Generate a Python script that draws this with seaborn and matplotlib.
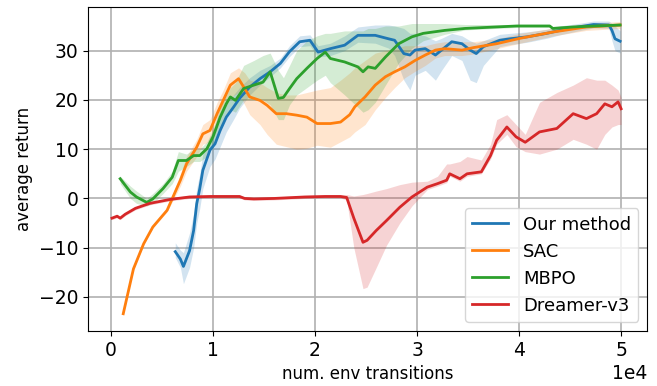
import numpy as np
import pandas as pd
import matplotlib
matplotlib.use("Agg")
import matplotlib.pyplot as plt
import seaborn as sns

methods = ["Our method", "SAC", "MBPO", "Dreamer-v3"]
colors = ["#1f77b4", "#ff7f0e", "#2ca02c", "#d62728"]

# x values in units of 1e4 env transitions
ours_x = [0.63,0.68,0.71,0.77,0.81,0.84,0.87,0.90,0.97,1.02,1.07,1.13,1.20,1.26,1.36,1.46,1.56,1.66,1.75,1.85,1.95,2.03,2.15,2.29,2.42,2.59,2.72,2.78,2.87,2.93,2.98,3.08,3.18,3.24,3.34,3.44,3.52,3.58,3.65,3.81,3.91,4.08,4.27,4.40,4.58,4.73,4.88,4.91,4.94,4.99]
ours_mean = [-10.8,-12.3,-13.8,-10.6,-6.5,-1.1,2.0,5.7,9.8,11.1,13.8,16.5,18.5,20.3,22.6,24.3,25.7,27.4,29.8,31.8,32.1,29.7,30.4,31.1,33.1,33.1,32.4,32.1,29.4,29.1,30.1,30.4,29.1,30.1,31.8,31.4,30.1,29.4,30.8,32.1,32.4,32.8,33.5,34.1,34.8,35.3,35.2,34.1,32.4,31.9]
ours_lo = [-12,-14,-17.3,-14,-10,-5,-2,2,6.5,8,10.5,13.5,16,18.3,21,23,24.7,26.5,28.8,30.8,31,28.7,29,30,31.7,31.5,30.5,29,24,22,25,26,24,26,29,28,24,23.5,27,30.8,31.2,31.7,32.5,33.2,34,34.6,34.5,32,30,29.5]
ours_hi = [-9,-10.5,-11,-7,-3,2,5,9,12.5,14,16.5,19,21,22.5,24.5,26,27,28.5,31,33,33.2,31,31.5,33,34.8,35.2,35.2,35,34.5,33.5,33.5,33,32,32.5,33.5,33,32,31.5,32,33.3,33.5,33.8,34.3,35,35.5,36,36,35.5,35,34]

sac_x = [0.12,0.22,0.32,0.41,0.55,0.68,0.74,0.84,0.90,0.97,1.04,1.10,1.17,1.25,1.31,1.36,1.46,1.53,1.62,1.72,1.82,1.92,2.02,2.15,2.25,2.34,2.39,2.49,2.59,2.69,2.78,2.88,2.98,3.08,3.18,3.27,3.44,3.55,3.78,4.01,4.34,4.66,4.99]
sac_mean = [-23.4,-14.3,-9.2,-5.8,-2.4,3.7,7.0,10.4,13.1,13.8,17.2,19.9,23.0,24.3,22.3,20.6,19.9,18.9,17.2,17.2,16.9,16.5,15.2,15.2,15.5,17.0,18.6,20.6,23.0,24.7,25.7,26.7,28.0,29.1,30.1,30.4,30.1,30.6,31.4,32.5,33.8,34.8,35.2]
sac_lo = [-23.6,-14.5,-9.4,-6.0,-2.7,2.5,5.5,8.5,11,11.5,15,17.5,20.5,21.5,19,17,15,13,11,10.5,10,10.2,10.8,10.4,11.5,12.5,13.5,15,18,20.5,22.5,24.5,25.8,27,28.5,29,29,29.3,30.4,31.5,33,34.1,34.5]
sac_hi = [-23.2,-14.1,-9.0,-5.6,-2.1,5,8.5,12,15,16,19.5,22,25.5,26.5,25.5,24,23.5,22.5,21.5,21,21,21.5,22,22.5,24,25.5,26.5,28,29.5,30,30.5,31,31,31,31.5,31.8,31.8,31.8,32.4,33.5,34.6,35.5,35.9]

mbpo_x = [0.09,0.19,0.25,0.35,0.41,0.51,0.60,0.66,0.74,0.81,0.87,0.94,1.00,1.07,1.13,1.17,1.22,1.30,1.40,1.49,1.56,1.64,1.69,1.75,1.82,1.92,2.02,2.10,2.15,2.29,2.42,2.47,2.52,2.59,2.69,2.82,2.95,3.06,3.27,3.47,3.98,4.30,4.33,4.53,4.99]
mbpo_mean = [4.0,1.3,0.3,-0.8,-0.1,2.0,4.3,7.7,7.7,8.7,8.7,10.1,12.5,16.5,19.2,20.6,19.9,22.3,23.0,23.6,25.7,20.3,20.5,22.3,24.3,26.4,28.4,29.7,28.4,27.7,26.7,25.7,26.7,26.4,28.7,31.4,32.8,33.5,34.1,34.5,35.0,35.0,34.5,34.8,35.2]
mbpo_lo = [3,0,-1,-1.5,-1,1,3,5.5,6.5,7.5,7.5,8.5,11,14.5,17,18,17.5,20,20,20,19,16,16,19,21,22.5,24,25,23.5,21,18.5,17.5,18,19.5,23,27.5,30.5,32,33.3,34.2,34.7,34.7,34.2,34.5,34.9]
mbpo_hi = [4.5,2.5,1.5,0,1,3,5.5,9.5,9,10,10,11.5,14,18.5,21,22.5,23.5,27,28,29,29.5,26,24.5,27,30,32,33,33.5,33.5,34,34,34,34.5,34.5,35,35,35.5,35.5,35.5,35.3,35.3,35.3,34.9,35.1,35.5]

dreamer_x = [0.01,0.06,0.09,0.14,0.24,0.38,0.58,0.77,0.97,1.16,1.26,1.31,1.40,1.60,1.90,2.10,2.25,2.31,2.38,2.47,2.51,2.60,2.70,2.83,2.95,3.10,3.20,3.29,3.32,3.42,3.49,3.63,3.72,3.78,3.88,3.97,4.06,4.20,4.37,4.53,4.66,4.76,4.84,4.91,4.97,5.00]
dreamer_mean = [-4.0,-3.6,-4.0,-3.2,-2.0,-1.0,-0.2,0.3,0.4,0.4,0.4,0.0,-0.1,0.0,0.3,0.4,0.4,0.2,-4.0,-8.9,-8.5,-6.5,-4.5,-1.8,0.3,2.3,3.0,3.7,5.0,4.0,5.0,5.4,8.7,11.8,14.5,12.5,11.4,13.5,14.2,17.2,16.2,17.2,19.2,18.6,19.6,18.2]
dreamer_lo = [-4.3,-3.9,-4.3,-3.5,-2.3,-1.3,-0.5,0.0,0.1,0.1,0.1,-0.3,-0.4,-0.3,0.0,0.1,0.1,-0.3,-10,-18.3,-18,-14,-9.5,-5,-1.5,1.8,2.5,3.2,4.5,3.5,4.5,5,8,11,13,10.5,9.5,9,10,12,11,10,13,14.5,15,15]
dreamer_hi = [-3.7,-3.3,-3.7,-2.9,-1.7,-0.7,0.1,0.6,0.7,0.7,0.7,0.3,0.2,0.3,0.6,0.7,0.7,0.8,0.5,0.8,1,1.5,2,2.8,3.3,3.5,4.5,7,7,7.5,8.5,7.8,11,16,17,15,13,19.5,21.5,23,24.5,24,24,23,22,20.5]

series = [
    (ours_x, ours_mean, ours_lo, ours_hi),
    (sac_x, sac_mean, sac_lo, sac_hi),
    (mbpo_x, mbpo_mean, mbpo_lo, mbpo_hi),
    (dreamer_x, dreamer_mean, dreamer_lo, dreamer_hi),
]

frames = []
for name, (xs, m, lo, hi) in zip(methods, series):
    frames.append(pd.DataFrame({"x": np.array(xs) * 1e4, "y": m, "lo": lo, "hi": hi, "method": name}))
df = pd.concat(frames, ignore_index=True)

fig = plt.figure(figsize=(6.57, 3.86), dpi=100)
ax = fig.add_axes([0.134, 0.1425, 0.851, 0.84])

for name, c in zip(methods, colors):
    d = df[df.method == name]
    ax.fill_between(d.x, d.lo, d.hi, color=c, alpha=0.2, linewidth=0)

sns.lineplot(data=df, x="x", y="y", hue="method", hue_order=methods,
             palette=colors, linewidth=2, ax=ax, estimator=None, sort=False)

ax.set_xlim(-2250, 52550)
ax.set_ylim(-26.9, 38.9)
ax.set_xticks([0, 10000, 20000, 30000, 40000, 50000])
ax.set_yticks([-20, -10, 0, 10, 20, 30])
ax.ticklabel_format(style="sci", axis="x", scilimits=(0, 0))
ax.grid(True, color="#b0b0b0", linewidth=1.2)
ax.set_axisbelow(True)
ax.tick_params(labelsize=13.5)
ax.xaxis.get_offset_text().set_fontsize(13.5)
ax.set_xlabel("num. env transitions", fontsize=12)
ax.set_ylabel("average return", fontsize=12)
leg = ax.legend(loc="lower right", fontsize=13)
leg.set_title(None)

fig.savefig("out.png", dpi=100)
